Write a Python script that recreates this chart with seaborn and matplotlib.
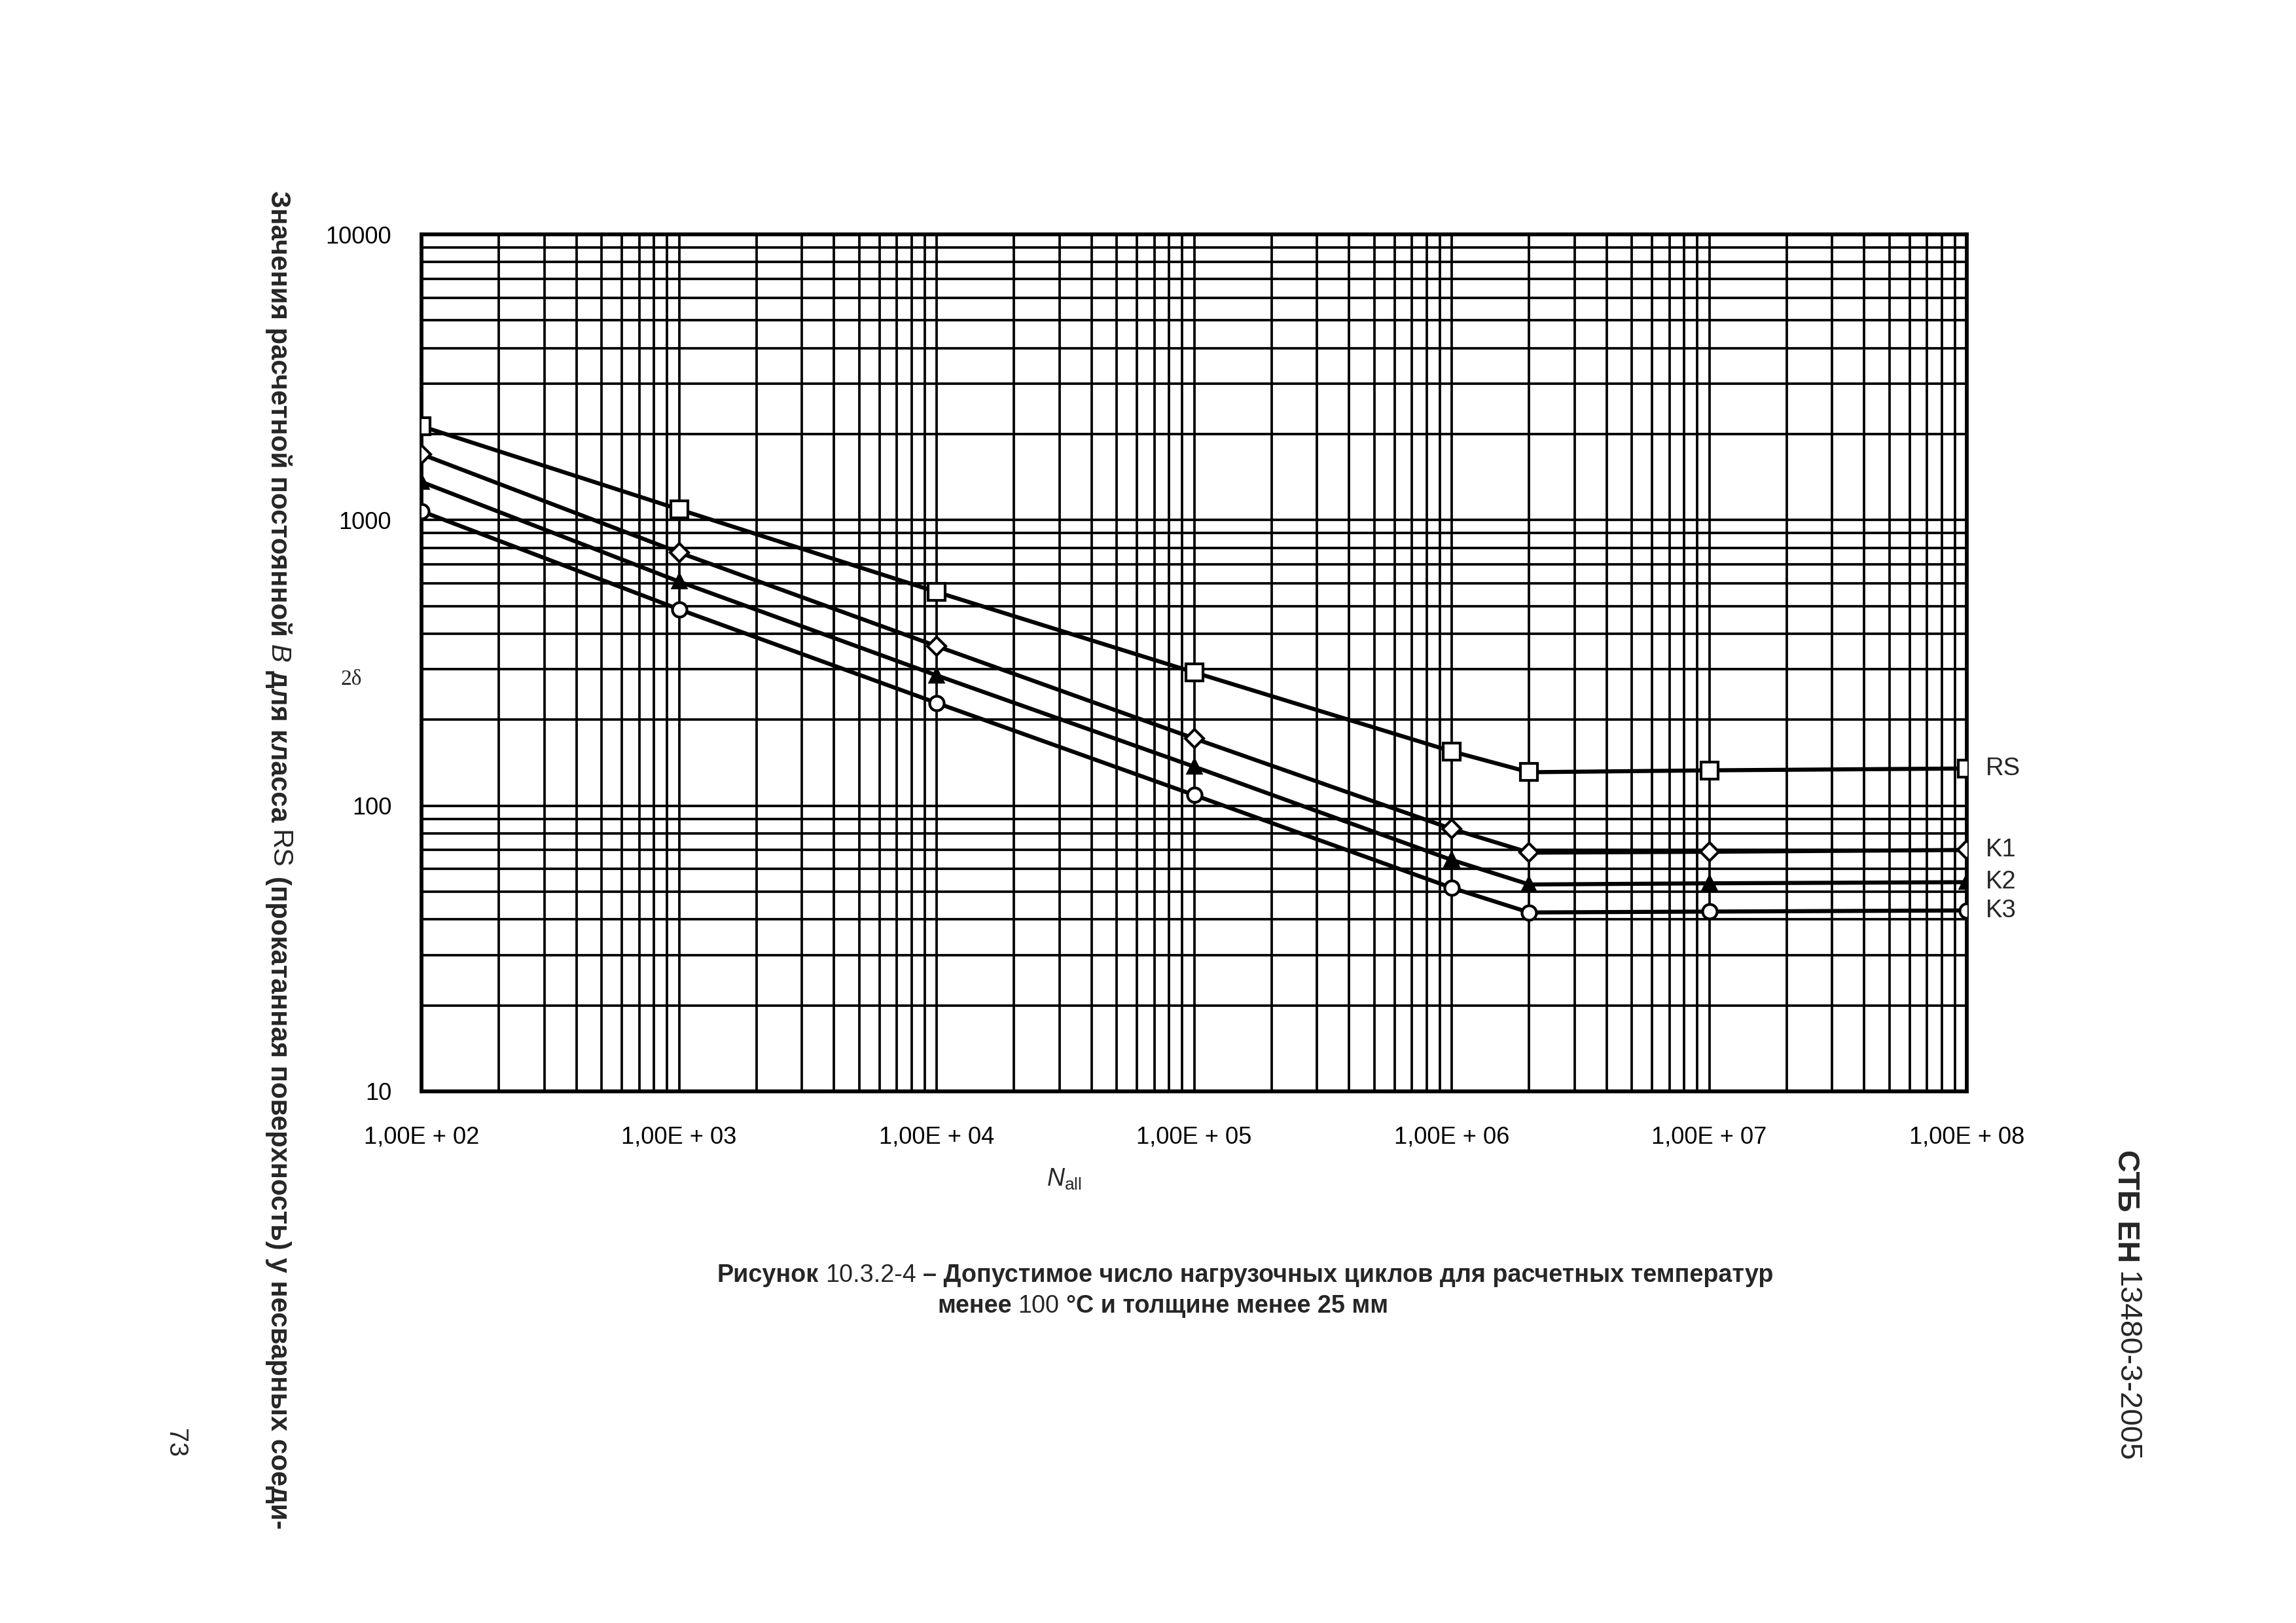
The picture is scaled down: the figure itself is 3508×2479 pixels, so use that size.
import numpy as np
import pandas as pd
import matplotlib
matplotlib.use("Agg")
import matplotlib.pyplot as plt
import seaborn as sns
from matplotlib.ticker import FixedLocator, FixedFormatter, LogLocator, NullFormatter

# ---------------- data ----------------
cycles = [1e2, 1e3, 1e4, 1e5, 1e6, 2e6, 1e7, 1e8]
rs_values = [2130, 1090, 560, 293, 155, 131, 133, 135]
k1_values = [1700, 770, 362, 172, 83, 68.5, 69, 70]
k2_values = [1360, 609, 286, 137, 64.6, 53, 53.5, 54]
k3_values = [1074, 487, 229, 109, 51.6, 42.3, 42.6, 43]
series_names = ["RS", "K1", "K2", "K3"]

x_ticks = [1e2, 1e3, 1e4, 1e5, 1e6, 1e7, 1e8]
x_tick_labels = ["1,00E + 02", "1,00E + 03", "1,00E + 04", "1,00E + 05",
                 "1,00E + 06", "1,00E + 07", "1,00E + 08"]
y_ticks = [10, 100, 1000, 10000]
y_tick_labels = ["10", "100", "1000", "10000"]

df = pd.DataFrame({
    "N": cycles * 4,
    "B": rs_values + k1_values + k2_values + k3_values,
    "series": sum([[n] * len(cycles) for n in series_names], []),
})

# ---------------- style ----------------
sns.set_style("white")
plt.rcParams["font.family"] = ["Liberation Sans", "DejaVu Sans"]
plt.rcParams["mathtext.fontset"] = "custom"
plt.rcParams["mathtext.rm"] = "Liberation Sans"
plt.rcParams["mathtext.it"] = "Liberation Sans:italic"

W, H = 3508, 2479
DPI = 300
fig = plt.figure(figsize=(W / DPI, H / DPI), dpi=DPI)
fig.patch.set_facecolor("white")
ax = fig.add_axes([644 / W, 1 - 1667 / H, (3005 - 644) / W, (1667 - 358) / H])

marker_styles = {
    "RS": dict(marker="s", markerfacecolor="white", markersize=6.3),
    "K1": dict(marker="D", markerfacecolor="white", markersize=4.6),
    "K2": dict(marker="^", markerfacecolor="black", markersize=5.0),
    "K3": dict(marker="o", markerfacecolor="white", markersize=5.3),
}
for name in series_names:
    sub = df[df["series"] == name]
    sns.lineplot(data=sub, x="N", y="B", ax=ax, color="black", linewidth=1.5,
                 markeredgecolor="black", markeredgewidth=1.0, zorder=5,
                 legend=False, **marker_styles[name])
    last = sub.iloc[-1]
    ax.annotate(name, xy=(last["N"], last["B"]), xytext=(7, 0),
                textcoords="offset points", va="center", ha="left",
                fontsize=9.2, annotation_clip=False)

ax.set_xscale("log")
ax.set_yscale("log")
ax.set_xlim(1e2, 1e8)
ax.set_ylim(10, 1e4)
ax.xaxis.set_major_locator(FixedLocator(x_ticks))
ax.xaxis.set_major_formatter(FixedFormatter(x_tick_labels))
ax.yaxis.set_major_locator(FixedLocator(y_ticks))
ax.yaxis.set_major_formatter(FixedFormatter(y_tick_labels))
ax.xaxis.set_minor_locator(LogLocator(base=10, subs=np.arange(2, 10), numticks=50))
ax.yaxis.set_minor_locator(LogLocator(base=10, subs=np.arange(2, 10), numticks=50))
ax.xaxis.set_minor_formatter(NullFormatter())
ax.yaxis.set_minor_formatter(NullFormatter())
ax.tick_params(which="both", length=0, labelsize=8.7, colors="black")
ax.tick_params(axis="x", pad=12.5)
ax.tick_params(axis="y", pad=11)
ax.grid(True, which="both", color="black", linewidth=0.9)
ax.set_axisbelow(True)
for s in ax.spines.values():
    s.set_color("black")
    s.set_linewidth(1.4)
ax.set_xlabel("")
ax.set_ylabel("")

# x axis label
fig.text(1626 / W, 1 - 1801 / H, r"$\mathit{N}_{\mathrm{all}}$", fontsize=9,
         ha="center", va="center")
# stray "2δ"
fig.text(537 / W, 1 - 1038 / H, "2δ", fontsize=8, ha="center", va="center",
         family=["Liberation Serif", "DejaVu Serif"])


def chain_vertical(x, y, pieces, fontsize, gap_pt):
    prev = fig.text(x, y, pieces[0][0], rotation=-90, va="top", ha="center",
                    fontsize=fontsize, fontweight=pieces[0][1], fontstyle=pieces[0][2])
    for txt, wt, st in pieces[1:]:
        prev = ax.annotate(txt, xy=(0.5, 0), xycoords=prev, xytext=(0, -gap_pt),
                           textcoords="offset points", rotation=-90, va="top",
                           ha="center", fontsize=fontsize, fontweight=wt,
                           fontstyle=st, annotation_clip=False)
    return prev


def chain_horizontal(x, y, pieces, fontsize, gap_pt, family):
    prev = fig.text(x, y, pieces[0][0], va="bottom", ha="left", fontsize=fontsize,
                    fontweight=pieces[0][1], family=family)
    for txt, wt in pieces[1:]:
        prev = ax.annotate(txt, xy=(1, 0), xycoords=prev, xytext=(gap_pt, 0),
                           textcoords="offset points", va="bottom", ha="left",
                           fontsize=fontsize, fontweight=wt, family=family,
                           annotation_clip=False)
    return prev


# rotated y label
chain_vertical(425 / W, 1 - 291 / H, [
    ("Значения расчетной постоянной", "bold", "normal"),
    ("B", "normal", "italic"),
    ("для класса", "bold", "normal"),
    ("RS", "normal", "normal"),
    ("(прокатанная поверхность) у несварных соеди-", "bold", "normal"),
], fontsize=10.1, gap_pt=2.9)

# page number
fig.text(268 / W, 1 - 2204 / H, "73", rotation=-90, fontsize=9.5,
         ha="center", va="center")

# document code on right
chain_vertical(3248 / W, 1 - 1756 / H, [
    ("СТБ ЕН", "bold", "normal"),
    ("13480-3-2005", "normal", "normal"),
], fontsize=11.2, gap_pt=3.2)

# caption
fam = ["Liberation Sans", "DejaVu Sans"]
chain_horizontal(1096 / W, 1 - 1966 / H, [
    ("Рисунок", "bold"),
    ("10.3.2-4", "normal"),
    ("– Допустимое число нагрузочных циклов для расчетных температур", "bold"),
], fontsize=9.05, gap_pt=2.4, family=fam)
chain_horizontal(1432 / W, 1 - 2013 / H, [
    ("менее", "bold"),
    ("100", "normal"),
    ("°С и толщине менее 25 мм", "bold"),
], fontsize=9.05, gap_pt=2.4, family=fam)

fig.savefig("out.png", dpi=DPI, facecolor="white")
